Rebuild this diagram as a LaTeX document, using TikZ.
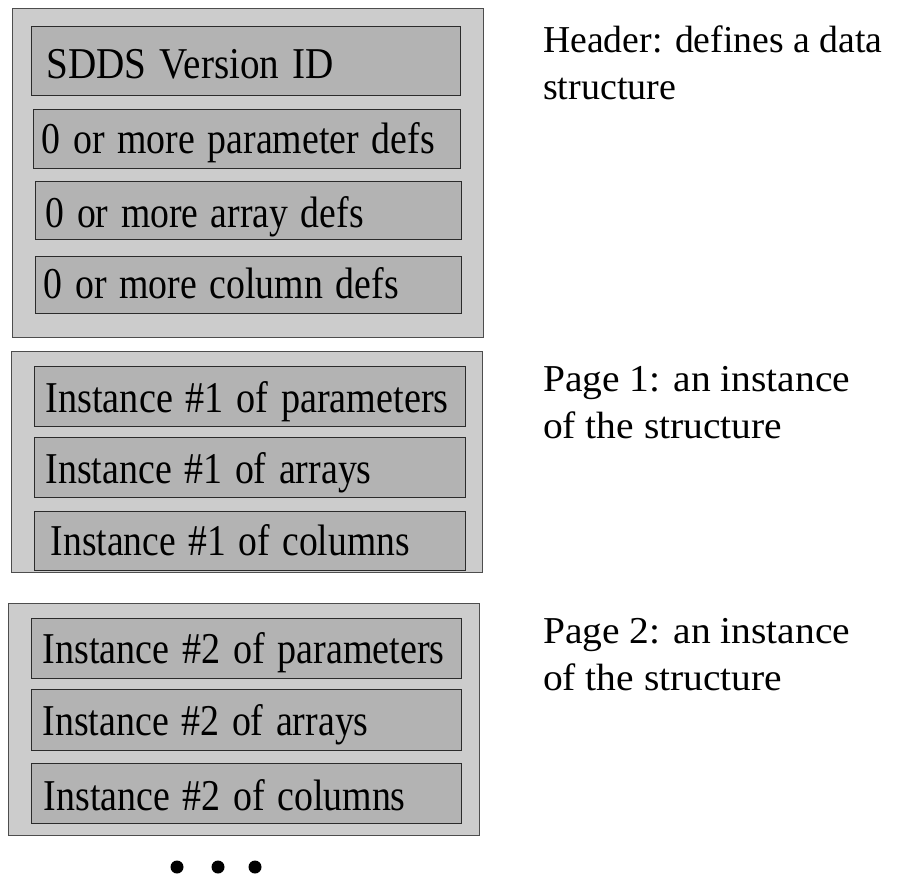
\documentclass[tikz,border=0pt]{standalone}
\usepackage{fontspec}
\setmainfont{Liberation Serif}
\usepackage{graphicx}
\usepackage{tikz}
\usetikzlibrary{positioning}

\definecolor{outgray}{HTML}{CCCCCC}
\definecolor{ingray}{HTML}{B3B3B3}
\definecolor{outline}{HTML}{4D4D4D}
\definecolor{inline}{HTML}{2B2B2B}

\tikzset{
    outbox/.style={draw=outline, fill=outgray, line width=1.4pt, anchor=north west, inner sep=0pt},
    inbox/.style={draw=inline, fill=ingray, line width=1.4pt, anchor=north west, inner ysep=0pt,
        align=left, font=\fontsize{44}{50}\selectfont},
    note/.style={anchor=north west, inner sep=0pt, align=left, font=\fontsize{38}{47}\selectfont},
    dotnode/.style={circle, fill=black, inner sep=0pt, minimum size=13pt},
}

\begin{document}
\begin{tikzpicture} [ x=1pt, y=-1pt, ]
    \useasboundingbox (0,0) rectangle (899,874);

    % header block
    \node[outbox, minimum width=471pt, minimum height=329pt] (header) at (12,8) {};
    \node[inbox, text width=399pt, inner xsep=15pt, text height=52pt, text depth=17pt] (sdds) at (31,26) {\resizebox{287pt}{\height}{SDDS Version ID}};
    \node[inbox, text width=411pt, inner xsep=8pt, text height=44pt, text depth=15pt] (pardefs) at (33,109) {\resizebox{393pt}{\height}{0 or more parameter defs}};
    \node[inbox, text width=406pt, inner xsep=10pt, text height=46pt, text depth=12pt] (arrdefs) at (35,181) {\resizebox{318pt}{\height}{0 or more array defs}};
    \node[inbox, text width=410pt, inner xsep=8pt, text height=42pt, text depth=15pt] (coldefs) at (35,256) {\resizebox{355pt}{\height}{0 or more column defs}};

    % page 1
    \node[outbox, minimum width=471pt, minimum height=221pt] (page1) at (11,351) {};
    \node[inbox, text width=409pt, inner xsep=11pt, text height=46pt, text depth=14pt] (par1) at (34,366) {\resizebox{403pt}{\height}{Instance \#1 of parameters}};
    \node[inbox, text width=409pt, inner xsep=11pt, text height=46pt, text depth=14pt] (arr1) at (34,437) {\resizebox{326pt}{\height}{Instance \#1 of arrays}};
    \node[inbox, text width=399pt, inner xsep=16pt, text height=44pt, text depth=15pt] (col1) at (34,511) {\resizebox{359pt}{\height}{Instance \#1 of columns}};

    % page 2
    \node[outbox, minimum width=471pt, minimum height=232pt] (page2) at (8,603) {};
    \node[inbox, text width=408pt, inner xsep=11pt, text height=45pt, text depth=15pt] (par2) at (31,618) {\resizebox{402pt}{\height}{Instance \#2 of parameters}};
    \node[inbox, text width=408pt, inner xsep=11pt, text height=46pt, text depth=15pt] (arr2) at (31,689) {\resizebox{326pt}{\height}{Instance \#2 of arrays}};
    \node[inbox, text width=406pt, inner xsep=12pt, text height=47pt, text depth=13pt] (col2) at (31,763) {\resizebox{362pt}{\height}{Instance \#2 of columns}};

    % notes
    \node[note] (headnote) at (543,26) {\resizebox{339pt}{\height}{Header: defines a data}\\\resizebox{133pt}{\height}{structure}};
    \node[note] (page1note) at (543,366) {\resizebox{307pt}{\height}{Page 1: an instance}\\\resizebox{239pt}{\height}{of the structure}};
    \node[note] (page2note) at (543,618) {\resizebox{307pt}{\height}{Page 2: an instance}\\\resizebox{239pt}{\height}{of the structure}};

    \node[dotnode] (dot1) at (177,867) {};
    \node[dotnode] (dot2) at (218,867) {};
    \node[dotnode] (dot3) at (255,867) {};

\end{tikzpicture}
\end{document}
